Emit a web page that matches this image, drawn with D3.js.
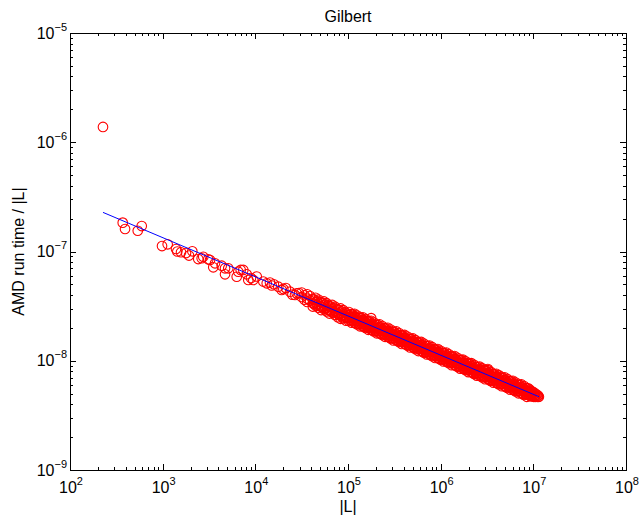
<!DOCTYPE html>
<html>
<head>
<meta charset="utf-8">
<script src="https://cdn.jsdelivr.net/npm/d3@7"></script>
<style>
  body { margin: 0; background: #fff; }
  text { font-family: "Liberation Sans", Arial, sans-serif; fill: #000; }
</style>
</head>
<body>
<div id="chart"></div>
<script>
var outlier = [[2.356, -5.860]];

var sparse = [
  [2.569, -6.736], [2.594, -6.794], [2.774, -6.767], [2.731, -6.810],
  [2.993, -6.950], [3.054, -6.934], [3.144, -6.977], [3.158, -7.000],
  [3.198, -7.007], [3.252, -7.014], [3.284, -7.037], [3.320, -6.998],
  [3.384, -7.069], [3.421, -7.062], [3.438, -7.048], [3.492, -7.071],
  [3.511, -7.078], [3.546, -7.145], [3.565, -7.108], [3.637, -7.130],
  [3.673, -7.209], [3.673, -7.154], [3.708, -7.154], [3.799, -7.231],
  [3.816, -7.185], [3.842, -7.169], [3.870, -7.169], [3.907, -7.209],
  [3.924, -7.261], [3.953, -7.243], [3.978, -7.261], [4.015, -7.229],
  [4.086, -7.275], [4.123, -7.291], [4.158, -7.284], [4.177, -7.311],
  [4.200, -7.300], [4.248, -7.322], [4.284, -7.352], [4.302, -7.343],
  [4.330, -7.335], [4.374, -7.368], [4.400, -7.395], [4.428, -7.398],
  [4.446, -7.383], [4.470, -7.380]
];

// dense part of the cloud: one row per |L| position, several run times each
var bandRows = [
  [4.50, [-7.376, -7.416]],
  [4.53, [-7.401, -7.441]],
  [4.56, [-7.392, -7.432, -7.462]],
  [4.59, [-7.408, -7.448]],
  [4.62, [-7.434, -7.474, -7.504]],
  [4.65, [-7.424, -7.464, -7.494]],
  [4.68, [-7.440, -7.480, -7.515]],
  [4.71, [-7.466, -7.506, -7.536]],
  [4.74, [-7.457, -7.497, -7.527]],
  [4.77, [-7.473, -7.513, -7.548]],
  [4.80, [-7.498, -7.538, -7.568]],
  [4.83, [-7.489, -7.529, -7.559]],
  [4.86, [-7.505, -7.545, -7.580]],
  [4.89, [-7.531, -7.571, -7.601]],
  [4.92, [-7.521, -7.561, -7.591, -7.616]],
  [4.95, [-7.537, -7.577, -7.612]],
  [4.98, [-7.563, -7.603, -7.633]],
  [5.01, [-7.554, -7.582, -7.609, -7.636]],
  [5.04, [-7.574, -7.602, -7.632, -7.652]],
  [5.07, [-7.570, -7.597, -7.623, -7.651]],
  [5.10, [-7.586, -7.614, -7.641, -7.668]],
  [5.13, [-7.607, -7.635, -7.665, -7.685]],
  [5.16, [-7.602, -7.629, -7.655, -7.683]],
  [5.19, [-7.618, -7.646, -7.673, -7.700]],
  [5.22, [-7.639, -7.667, -7.697, -7.717]],
  [5.25, [-7.610, -7.635, -7.662, -7.688, -7.716]],
  [5.28, [-7.650, -7.678, -7.705, -7.732]],
  [5.31, [-7.671, -7.699, -7.729, -7.749]],
  [5.34, [-7.667, -7.694, -7.720, -7.748]],
  [5.37, [-7.683, -7.711, -7.738, -7.765]],
  [5.40, [-7.703, -7.731, -7.761, -7.781]],
  [5.43, [-7.699, -7.726, -7.752, -7.780]],
  [5.46, [-7.715, -7.743, -7.770, -7.797]],
  [5.49, [-7.736, -7.764, -7.794, -7.814]],
  [5.52, [-7.731, -7.758, -7.784, -7.812]],
  [5.55, [-7.747, -7.775, -7.802, -7.829]],
  [5.58, [-7.768, -7.796, -7.826, -7.846]],
  [5.61, [-7.764, -7.791, -7.817, -7.845]],
  [5.64, [-7.779, -7.807, -7.834, -7.861]],
  [5.67, [-7.800, -7.828, -7.858, -7.878]],
  [5.70, [-7.796, -7.823, -7.849, -7.877]],
  [5.73, [-7.812, -7.840, -7.867, -7.894]],
  [5.76, [-7.833, -7.861, -7.891, -7.911]],
  [5.79, [-7.828, -7.855, -7.881, -7.909]],
  [5.82, [-7.844, -7.872, -7.899, -7.926]],
  [5.85, [-7.865, -7.893, -7.923, -7.943]],
  [5.88, [-7.861, -7.888, -7.914, -7.942]],
  [5.91, [-7.876, -7.904, -7.931, -7.958]],
  [5.94, [-7.897, -7.925, -7.955, -7.975]],
  [5.97, [-7.893, -7.920, -7.946, -7.974]],
  [6.00, [-7.909, -7.937, -7.964, -7.991]],
  [6.03, [-7.929, -7.957, -7.987, -8.007]],
  [6.06, [-7.925, -7.952, -7.978, -8.006]],
  [6.09, [-7.941, -7.969, -7.996, -8.023]],
  [6.12, [-7.962, -7.990, -8.020, -8.040]],
  [6.15, [-7.957, -7.984, -8.010, -8.038]],
  [6.18, [-7.973, -8.001, -8.028, -8.055]],
  [6.21, [-7.994, -8.022, -8.052, -8.072]],
  [6.24, [-7.990, -8.017, -8.043, -8.071]],
  [6.27, [-8.005, -8.033, -8.060, -8.087]],
  [6.30, [-8.026, -8.054, -8.084, -8.104]],
  [6.33, [-8.022, -8.049, -8.075, -8.103]],
  [6.36, [-8.038, -8.066, -8.093, -8.120]],
  [6.39, [-8.058, -8.086, -8.116, -8.136]],
  [6.42, [-8.054, -8.081, -8.107, -8.135]],
  [6.45, [-8.070, -8.098, -8.125, -8.152]],
  [6.48, [-8.091, -8.119, -8.149, -8.169]],
  [6.51, [-8.076, -8.086, -8.113, -8.139, -8.167]],
  [6.54, [-8.102, -8.130, -8.157, -8.184]],
  [6.57, [-8.123, -8.151, -8.181, -8.201]],
  [6.60, [-8.119, -8.146, -8.172, -8.200]],
  [6.63, [-8.134, -8.162, -8.189, -8.216]],
  [6.66, [-8.155, -8.183, -8.213, -8.233]],
  [6.69, [-8.151, -8.178, -8.204, -8.232]],
  [6.72, [-8.167, -8.195, -8.222, -8.249]],
  [6.75, [-8.187, -8.215, -8.245, -8.265]],
  [6.78, [-8.183, -8.210, -8.236, -8.264]],
  [6.81, [-8.199, -8.227, -8.254, -8.281]],
  [6.84, [-8.220, -8.248, -8.278, -8.298]],
  [6.87, [-8.215, -8.242, -8.268, -8.296]],
  [6.90, [-8.231, -8.259, -8.286, -8.313]],
  [6.93, [-8.252, -8.280, -8.310, -8.330]],
  [6.96, [-8.263, -8.285, -8.305, -8.320]],
  [6.99, [-8.283, -8.300, -8.318]],
  [7.02, [-8.300, -8.316, -8.330]],
  [7.05, [-8.318, -8.332]],
  [7.06, [-8.329]]
];

// more points in between the rows above, where the cloud is solid
var bandRowsMid = [
  [4.635, [-7.441, -7.477]], [4.665, [-7.450, -7.492]],
  [4.695, [-7.463, -7.499]], [4.725, [-7.471, -7.513]], [4.755, [-7.484, -7.520]],
  [4.785, [-7.493, -7.535]], [4.815, [-7.506, -7.542]], [4.845, [-7.514, -7.556]],
  [4.875, [-7.527, -7.563]], [4.905, [-7.536, -7.578]], [4.935, [-7.549, -7.585]],
  [4.965, [-7.557, -7.599]], [4.995, [-7.570, -7.606]],
  [5.025, [-7.573, -7.601, -7.629]], [5.055, [-7.576, -7.604, -7.632]],
  [5.085, [-7.601, -7.631, -7.659]], [5.115, [-7.605, -7.633, -7.661]],
  [5.145, [-7.608, -7.636, -7.664]], [5.175, [-7.633, -7.663, -7.691]],
  [5.205, [-7.638, -7.666, -7.694]], [5.235, [-7.640, -7.668, -7.696]],
  [5.265, [-7.665, -7.695, -7.723]], [5.295, [-7.670, -7.698, -7.726]],
  [5.325, [-7.673, -7.701, -7.729]], [5.355, [-7.697, -7.727, -7.755]],
  [5.385, [-7.702, -7.730, -7.758]], [5.415, [-7.705, -7.733, -7.761]],
  [5.445, [-7.730, -7.760, -7.788]], [5.475, [-7.734, -7.762, -7.790]],
  [5.505, [-7.737, -7.765, -7.793]], [5.535, [-7.762, -7.792, -7.820]],
  [5.565, [-7.767, -7.795, -7.823]], [5.595, [-7.769, -7.797, -7.825]],
  [5.625, [-7.794, -7.824, -7.852]], [5.655, [-7.799, -7.827, -7.855]],
  [5.685, [-7.802, -7.830, -7.858]], [5.715, [-7.826, -7.856, -7.884]],
  [5.745, [-7.831, -7.859, -7.887]], [5.775, [-7.834, -7.862, -7.890]],
  [5.805, [-7.859, -7.889, -7.917]], [5.835, [-7.863, -7.891, -7.919]],
  [5.865, [-7.866, -7.894, -7.922]], [5.895, [-7.891, -7.921, -7.949]],
  [5.925, [-7.896, -7.924, -7.952]], [5.955, [-7.898, -7.926, -7.954]],
  [5.985, [-7.923, -7.953, -7.981]], [6.015, [-7.928, -7.956, -7.984]],
  [6.045, [-7.931, -7.959, -7.987]], [6.075, [-7.955, -7.985, -8.013]],
  [6.105, [-7.960, -7.988, -8.016]], [6.135, [-7.963, -7.991, -8.019]],
  [6.165, [-7.988, -8.018, -8.046]], [6.195, [-7.992, -8.020, -8.048]],
  [6.225, [-7.995, -8.023, -8.051]], [6.255, [-8.020, -8.050, -8.078]],
  [6.285, [-8.025, -8.053, -8.081]], [6.315, [-8.027, -8.055, -8.083]],
  [6.345, [-8.052, -8.082, -8.110]], [6.375, [-8.057, -8.085, -8.113]],
  [6.405, [-8.060, -8.088, -8.116]], [6.435, [-8.084, -8.114, -8.142]],
  [6.465, [-8.089, -8.117, -8.145]], [6.495, [-8.092, -8.120, -8.148]],
  [6.525, [-8.117, -8.147, -8.175]], [6.555, [-8.121, -8.149, -8.177]],
  [6.585, [-8.124, -8.152, -8.180]], [6.615, [-8.149, -8.179, -8.207]],
  [6.645, [-8.154, -8.182, -8.210]], [6.675, [-8.156, -8.184, -8.212]],
  [6.705, [-8.181, -8.211, -8.239]], [6.735, [-8.186, -8.214, -8.242]],
  [6.765, [-8.189, -8.217, -8.245]], [6.795, [-8.213, -8.243, -8.271]],
  [6.825, [-8.218, -8.246, -8.274]], [6.855, [-8.221, -8.249, -8.277]],
  [6.885, [-8.246, -8.276, -8.304]], [6.915, [-8.250, -8.278, -8.306]],
  [6.945, [-8.253, -8.281, -8.309]], [6.975, [-8.278, -8.308, -8.326]],
  [7.005, [-8.290, -8.311, -8.330]], [7.035, [-8.310, -8.328]]
];

// fitted power law, end points
var fitL = [2.356, 7.063];
var fitT = [-6.642, -8.330];

var xDecades = [2, 3, 4, 5, 6, 7, 8];
var yDecades = [-9, -8, -7, -6, -5];

// set the dimensions and margins of the graph
var margin = { top: 33, right: 13, bottom: 57, left: 70 },
  width = 639 - margin.left - margin.right,
  height = 527 - margin.top - margin.bottom;

var svg = d3.select("#chart")
  .append("svg")
  .attr("width", 639)
  .attr("height", 527);

var g = svg.append("g")
  .attr("transform", "translate(" + margin.left + "," + margin.top + ")");

var x = d3.scaleLog().domain([1e2, 1e8]).range([0, width]);
var y = d3.scaleLog().domain([1e-9, 1e-5]).range([height, 0]);

// points
var pts = [];
outlier.concat(sparse).forEach(function (d) { pts.push(d); });
bandRows.concat(bandRowsMid).forEach(function (r) {
  r[1].forEach(function (t) { pts.push([r[0], t]); });
});

g.selectAll("circle.pt")
  .data(pts)
  .enter()
  .append("circle")
  .attr("class", "pt")
  .attr("cx", function (d) { return x(Math.pow(10, d[0])); })
  .attr("cy", function (d) { return y(Math.pow(10, d[1])); })
  .attr("r", 4.8)
  .style("fill", "none")
  .style("stroke", "#ff0000")
  .style("stroke-width", 1.1);

// fit line
var fit = fitL.map(function (l, i) { return [Math.pow(10, l), Math.pow(10, fitT[i])]; });
g.append("path")
  .datum(fit)
  .attr("d", d3.line().x(function (d) { return x(d[0]); }).y(function (d) { return y(d[1]); }))
  .style("fill", "none")
  .style("stroke", "#0000ff")
  .style("stroke-width", 1);

// ticks, pointing inwards on all four sides
var xMajor = xDecades.map(function (e) { return Math.pow(10, e); });
var yMajor = yDecades.map(function (e) { return Math.pow(10, e); });
var xMinor = x.ticks().filter(function (v) { return xMajor.indexOf(v) < 0; });
var yMinor = y.ticks().filter(function (v) { return yMajor.indexOf(v) < 0; });

function ticks(axis, vals, size, tr) {
  var a = g.append("g")
    .attr("transform", tr)
    .call(axis.tickValues(vals).tickSize(size).tickFormat(""));
  a.select(".domain").remove();
  a.selectAll("line").style("stroke", "#000").style("shape-rendering", "crispEdges");
}
ticks(d3.axisBottom(x), xMajor, -6, "translate(0," + height + ")");
ticks(d3.axisBottom(x), xMinor, -3, "translate(0," + height + ")");
ticks(d3.axisTop(x), xMajor, -6, "translate(0,0)");
ticks(d3.axisTop(x), xMinor, -3, "translate(0,0)");
ticks(d3.axisLeft(y), yMajor, -6, "translate(0,0)");
ticks(d3.axisLeft(y), yMinor, -3, "translate(0,0)");
ticks(d3.axisRight(y), yMajor, -6, "translate(" + width + ",0)");
ticks(d3.axisRight(y), yMinor, -3, "translate(" + width + ",0)");

// box
g.append("rect")
  .attr("x", 0).attr("y", 0)
  .attr("width", width).attr("height", height)
  .style("fill", "none")
  .style("stroke", "#000")
  .style("stroke-width", 1)
  .style("shape-rendering", "crispEdges");

// tick labels, 10 with a raised exponent
function expLabel(sel, e) {
  sel.append("tspan").text("10");
  sel.append("tspan")
    .attr("dy", -8)
    .style("font-size", "11px")
    .text(String(e).replace("-", "\u2212"));
}

xDecades.forEach(function (e) {
  g.append("text")
    .attr("x", x(Math.pow(10, e)) + 1)
    .attr("y", height + 23)
    .attr("text-anchor", "middle")
    .style("font-size", "16px")
    .call(expLabel, e);
});

yDecades.forEach(function (e) {
  g.append("text")
    .attr("x", -3)
    .attr("y", y(Math.pow(10, e)) + 5.5)
    .attr("text-anchor", "end")
    .style("font-size", "16px")
    .call(expLabel, e);
});

// title and axis labels
g.append("text")
  .attr("x", width / 2)
  .attr("y", -11.5)
  .attr("text-anchor", "middle")
  .style("font-size", "16px")
  .text("Gilbert");

g.append("text")
  .attr("x", width / 2)
  .attr("y", height + 42)
  .attr("text-anchor", "middle")
  .style("font-size", "16px")
  .text("|L|");

g.append("text")
  .attr("transform", "translate(-46," + (height / 2) + ") rotate(-90)")
  .attr("text-anchor", "middle")
  .style("font-size", "16px")
  .text("AMD run time / |L|");
</script>
</body>
</html>
